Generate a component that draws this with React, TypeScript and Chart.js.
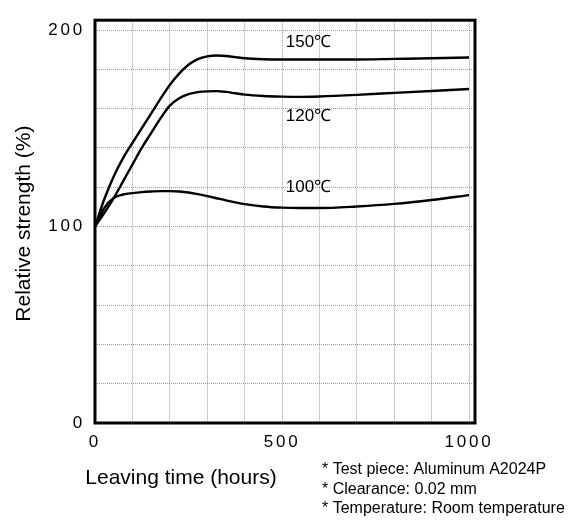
import React, { useEffect, useRef } from "react";
import { Chart, registerables } from "chart.js";

Chart.register(...registerables);

const hours = [0, 25, 50, 75, 100, 125, 150, 175, 200, 225, 250, 275, 300, 325, 350, 375, 400, 450, 500, 550, 600, 700, 800, 900, 1000];
const strength150 = [100, 114, 125.5, 134.8, 142.5, 150, 157.5, 165, 172, 177.8, 182.3, 185.2, 186.6, 187, 186.8, 186.2, 185.6, 185.1, 185, 185, 185, 185, 185.3, 185.6, 186];
const strength120 = [100, 107, 114.5, 123, 131.5, 140, 147.5, 155, 161.5, 165.3, 167.4, 168.4, 168.8, 168.9, 168.5, 167.8, 167.1, 166.4, 166.1, 166, 166.2, 167, 168, 169, 170];
const strength100 = [100, 109.5, 114.5, 116.3, 117, 117.5, 117.8, 118, 118, 117.8, 117.3, 116.5, 115.5, 114.4, 113.3, 112.3, 111.4, 110.2, 109.6, 109.4, 109.4, 110.2, 111.5, 113.5, 116];

const seriesLabels = ["150℃", "120℃", "100℃"];
const yTickValues = [0, 20, 40, 60, 80, 100, 120, 140, 160, 180, 200];
const yTickLabels = ["0", "100", "200"];
const xTickValues = [0, 100, 200, 300, 400, 500, 600, 700, 800, 900, 1000];
const xTickLabels = ["0", "500", "1000"];
const xTitle = "Leaving time (hours)";
const yTitle = "Relative strength (%)";
const notes = [
  "* Test piece: Aluminum A2024P",
  "* Clearance: 0.02 mm",
  "* Temperature: Room temperature",
];

const FONT = '"Liberation Sans", Arial, Helvetica, sans-serif';

const toPoints = (ys: number[]) => hours.map((h, i) => ({ x: h, y: ys[i] }));

export default function App() {
  const ref = useRef<HTMLCanvasElement | null>(null);

  useEffect(() => {
    document.body.style.margin = "0";
    const canvas = ref.current;
    if (!canvas) return;

    const spacingPlugin = {
      id: "spacing",
      beforeDraw(chart: any) {
        (chart.ctx as any).letterSpacing = "2.8px";
      },
      beforeDatasetsDraw(chart: any) {
        (chart.ctx as any).letterSpacing = "0px";
      },
    };

    const decoPlugin = {
      id: "deco",
      afterDatasetsDraw(chart: any) {
        const { ctx, chartArea } = chart;
        ctx.save();
        ctx.strokeStyle = "#000";
        ctx.lineWidth = 3;
        ctx.strokeRect(chartArea.left, chartArea.top, chartArea.right - chartArea.left, chartArea.bottom - chartArea.top);
        ctx.restore();
      },
      afterDraw(chart: any) {
        const { ctx, chartArea, scales } = chart;
        ctx.save();
        (ctx as any).letterSpacing = "0px";
        ctx.fillStyle = "#000";
        const labelY = [194, 156, 120];
        ctx.font = `17px ${FONT}`;
        ctx.textAlign = "left";
        ctx.textBaseline = "middle";
        seriesLabels.forEach((t, i) => {
          ctx.fillText(t, scales.x.getPixelForValue(510), scales.y.getPixelForValue(labelY[i]));
        });
        ctx.font = `21px ${FONT}`;
        ctx.textAlign = "center";
        ctx.fillText(xTitle, 181, 478);
        ctx.save();
        ctx.translate(24, (chartArea.top + chartArea.bottom) / 2 + 2);
        ctx.rotate(-Math.PI / 2);
        ctx.fillText(yTitle, 0, 0);
        ctx.restore();
        ctx.font = `16px ${FONT}`;
        ctx.textAlign = "left";
        notes.forEach((n, i) => ctx.fillText(n, 322, 470 + i * 19.5));
        ctx.restore();
      },
    };

    const lineStyle = {
      borderColor: "#000",
      borderWidth: 2.4,
      pointRadius: 0,
      fill: false,
      cubicInterpolationMode: "monotone" as const,
    };

    const gridOpts = {
      color: "rgba(0,0,0,0.38)",
      lineWidth: 1,
      drawTicks: false,
    };

    const chart = new Chart(canvas, {
      type: "line",
      data: {
        datasets: [
          { label: seriesLabels[0], data: toPoints(strength150), ...lineStyle },
          { label: seriesLabels[1], data: toPoints(strength120), ...lineStyle },
          { label: seriesLabels[2], data: toPoints(strength100), ...lineStyle },
        ],
      },
      options: {
        animation: false,
        responsive: false,
        maintainAspectRatio: false,
        events: [],
        layout: { padding: { left: 0, top: 8, right: 100, bottom: 0 } },
        plugins: { legend: { display: false }, tooltip: { enabled: false }, title: { display: false } },
        scales: {
          x: {
            type: "linear",
            min: 0,
            max: 1016,
            afterBuildTicks: (s: any) => {
              s.ticks = xTickValues.map((v) => ({ value: v }));
            },
            afterFit: (s: any) => {
              s.height = 97;
            },
            grid: gridOpts,
            border: { display: false, dash: [1, 1] },
            ticks: {
              padding: 9,
              maxRotation: 0,
              autoSkip: false,
              color: "#000",
              font: { family: FONT, size: 17 },
              callback: (v: any) => (xTickLabels.includes(String(v)) ? String(v) : ""),
            },
          },
          y: {
            type: "linear",
            min: 0,
            max: 205,
            afterBuildTicks: (s: any) => {
              s.ticks = yTickValues.map((v) => ({ value: v }));
            },
            afterFit: (s: any) => {
              s.width = 95;
            },
            grid: gridOpts,
            border: { display: false, dash: [1, 1] },
            ticks: {
              padding: 10,
              autoSkip: false,
              color: "#000",
              font: { family: FONT, size: 17 },
              callback: (v: any) => (yTickLabels.includes(String(v)) ? String(v) : ""),
            },
          },
        },
      },
      plugins: [spacingPlugin, decoPlugin],
    });

    return () => chart.destroy();
  }, []);

  return (
    <div style={{ width: 575, height: 520, background: "#fff" }}>
      <canvas ref={ref} width={575} height={520} style={{ display: "block" }} />
    </div>
  );
}
